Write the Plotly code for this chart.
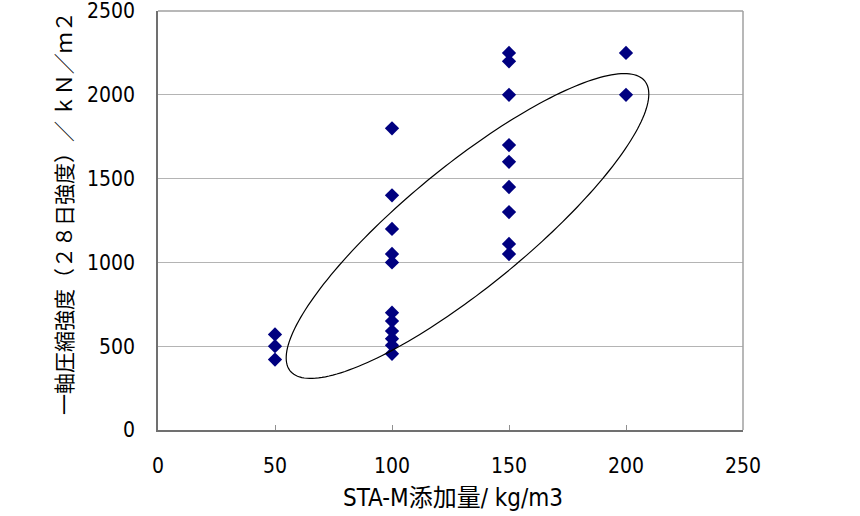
import numpy as np
import plotly.graph_objects as go

# data
x_vals = [50, 50, 50,
          100, 100, 100, 100, 100, 100, 100, 100, 100, 100, 100,
          150, 150, 150, 150, 150, 150, 150, 150, 150,
          200, 200]
y_vals = [570, 500, 420,
          1800, 1400, 1200, 1050, 1000, 700, 650, 590, 545, 505, 455,
          2250, 2200, 2000, 1700, 1600, 1450, 1300, 1110, 1050,
          2250, 2000]
x_ticks = [0, 50, 100, 150, 200, 250]
y_ticks = [0, 500, 1000, 1500, 2000, 2500]
x_title = "STA-M添加量/ kg/m3"
y_title = "一軸圧縮強度（２８日強度）／ ｋＮ／ｍ２"

W, H = 860, 516
ML, MR, MT, MB = 158, 117, 11, 86
pw, ph = W - ML - MR, H - MT - MB
sx = pw / 250.0
sy = ph / 2500.0

# ellipse (pixel geometry -> data)
cxp, cyp = 467.5, 226.0
a_px, b_px, ang = 229.0, 60.5, np.deg2rad(39.3)
t = np.linspace(0, 2 * np.pi, 200)
exp_ = cxp + a_px * np.cos(t) * np.cos(ang) - b_px * np.sin(t) * np.sin(ang)
eyp = cyp - (a_px * np.cos(t) * np.sin(ang) + b_px * np.sin(t) * np.cos(ang))
ex = (exp_ - ML) / sx
ey = ((MT + ph) - eyp) / sy
path = "M " + " L ".join(f"{a:.3f},{b:.3f}" for a, b in zip(ex, ey)) + " Z"

tick_font = dict(family="DejaVu Sans Condensed, Noto Sans CJK JP", size=21, color="black")
title_font_x = dict(family="DejaVu Sans Condensed, Noto Sans CJK JP", size=24, color="black")
title_font_y = dict(family="Noto Sans CJK JP", size=21, color="black")

fig = go.Figure()
fig.add_trace(go.Scatter(
    x=x_vals, y=y_vals, mode="markers",
    marker=dict(symbol="diamond", size=11, color="#000080",
                line=dict(width=0)),
    showlegend=False, cliponaxis=False))

fig.add_shape(type="path", path=path, xref="x", yref="y",
              line=dict(color="black", width=1.2), fillcolor="rgba(0,0,0,0)")
# top / right border
fig.add_shape(type="line", xref="paper", yref="paper", x0=0, x1=1, y0=1, y1=1,
              line=dict(color="#a0a0a0", width=1.5))
fig.add_shape(type="line", xref="paper", yref="paper", x0=1, x1=1, y0=0, y1=1,
              line=dict(color="#a0a0a0", width=1.5))

# axis titles as annotations for precise placement
fig.add_annotation(text=x_title, xref="paper", yref="paper",
                   x=(453 - ML) / pw, y=(H - MB - 498) / ph,
                   xanchor="center", yanchor="middle", showarrow=False,
                   font=title_font_x)
fig.add_annotation(text=y_title, xref="paper", yref="paper",
                   x=(63 - ML) / pw, y=(H - MB - 213) / ph,
                   xanchor="center", yanchor="middle", showarrow=False,
                   textangle=-90, font=title_font_y)

fig.update_layout(
    width=W, height=H,
    margin=dict(l=ML, r=MR, t=MT, b=MB, autoexpand=False),
    paper_bgcolor="white", plot_bgcolor="white",
    font=dict(family="Noto Sans CJK JP", size=19, color="black"),
    xaxis=dict(range=[0, 250], tickvals=x_ticks, showgrid=False,
               showline=True, linecolor="#707070", linewidth=1.5,
               ticks="inside", ticklen=5, tickcolor="#909090",
               ticklabelstandoff=16, zeroline=False, tickfont=tick_font,
               ticklabeloverflow="allow", automargin=False),
    yaxis=dict(range=[0, 2500], tickvals=y_ticks, showgrid=True,
               gridcolor="#b4b4b4", gridwidth=1,
               showline=True, linecolor="#707070", linewidth=1.5,
               ticks="", ticklabelstandoff=17, zeroline=False, tickfont=tick_font,
               ticklabeloverflow="allow", automargin=False),
)

fig.write_html("out.html")
